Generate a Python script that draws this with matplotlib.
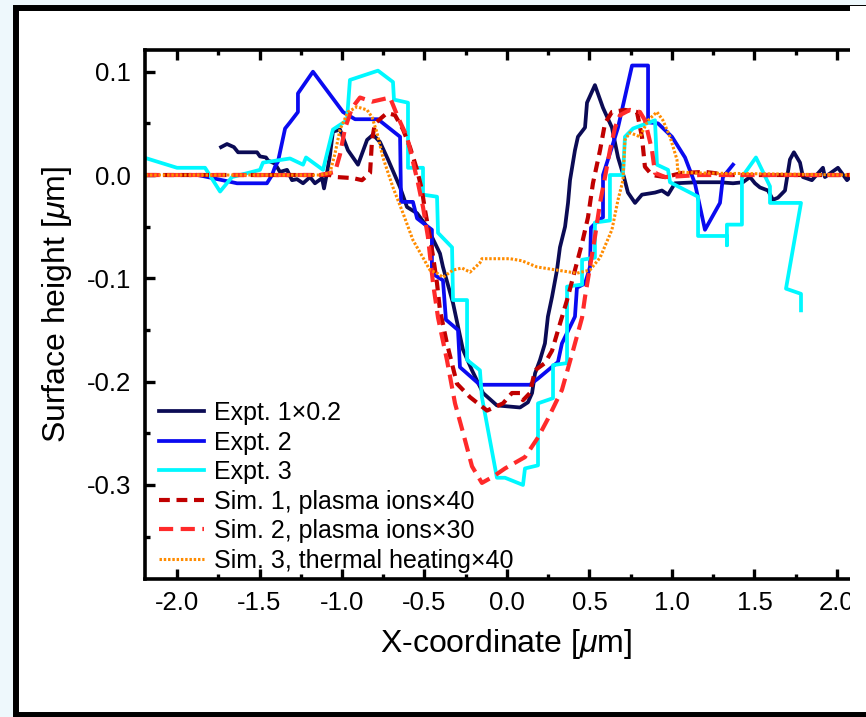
import matplotlib
matplotlib.use("Agg")
import matplotlib.pyplot as plt
from matplotlib.patches import Rectangle
from matplotlib.ticker import MultipleLocator

plt.rcParams['font.family'] = ['Liberation Sans', 'DejaVu Sans']
plt.rcParams['mathtext.fontset'] = 'custom'
plt.rcParams['mathtext.it'] = 'Liberation Sans:italic'

# Expt. 1 (scaled x0.2)
e1_x = [-1.733, -1.697, -1.655, -1.630, -1.515, -1.497, -1.461, -1.448, -1.406, -1.376,
        -1.333, -1.303, -1.273, -1.236, -1.194, -1.164, -1.121, -1.109, -1.091, -1.073,
        -1.055, -1.012, -0.964, -0.903, -0.848, -0.812, -0.770, -0.721, -0.648, -0.606,
        -0.545, -0.485, -0.406, -0.388, -0.327, -0.267, -0.212, -0.145, -0.061, 0.079,
        0.127, 0.152, 0.170, 0.200, 0.230, 0.248, 0.273, 0.303, 0.321, 0.352,
        0.370, 0.382, 0.412, 0.430, 0.473, 0.485, 0.533, 0.582, 0.636, 0.673,
        0.709, 0.733, 0.776, 0.818, 0.897, 0.939, 0.976, 1.018, 1.152, 1.291,
        1.370, 1.430, 1.473, 1.503, 1.533, 1.582, 1.612, 1.642, 1.685, 1.715,
        1.739, 1.776, 1.794, 1.848, 1.915, 1.927, 2.006, 2.061, 2.079]
e1_y = [0.027, 0.030, 0.027, 0.022, 0.022, 0.018, 0.017, 0.014, 0.011, 0.003,
        0.005, -0.005, -0.004, -0.008, -0.002, -0.008, -0.003, -0.013, 0.002, 0.019,
        0.042, 0.044, 0.024, 0.010, 0.034, 0.039, 0.032, 0.015, -0.012, -0.031,
        -0.037, -0.050, -0.076, -0.089, -0.124, -0.169, -0.189, -0.211, -0.223, -0.225,
        -0.220, -0.211, -0.192, -0.179, -0.163, -0.137, -0.118, -0.092, -0.070, -0.050,
        -0.027, -0.005, 0.024, 0.037, 0.046, 0.070, 0.087, 0.065, 0.046, 0.017,
        -0.002, -0.017, -0.027, -0.019, -0.017, -0.015, -0.019, -0.008, -0.007, -0.007,
        -0.008, -0.007, -0.002, -0.008, -0.012, -0.015, -0.024, -0.022, -0.015, 0.015,
        0.022, 0.012, -0.002, -0.005, 0.007, -0.002, 0.007, -0.005, -0.002]

# Expt. 2
e2_x = [-1.873, -1.636, -1.455, -1.424, -1.406, -1.388, -1.345, -1.315, -1.267, -1.267,
        -1.176, -0.994, -0.921, -0.782, -0.648, -0.642, -0.570, -0.545, -0.455, -0.455,
        -0.388, -0.370, -0.297, -0.285, -0.164, 0.139, 0.188, 0.248, 0.309, 0.333,
        0.394, 0.412, 0.424, 0.473, 0.503, 0.509, 0.552, 0.582, 0.582, 0.636,
        0.673, 0.758, 0.855, 0.855, 0.915, 1.000, 1.079, 1.139, 1.200, 1.291,
        1.309, 1.370]
e2_y = [0.0, -0.008, -0.008, 0.0, 0.008, 0.013, 0.045, 0.051, 0.061, 0.079,
        0.100, 0.061, 0.054, 0.054, 0.037, -0.026, -0.026, -0.042, -0.053, -0.095,
        -0.102, -0.140, -0.150, -0.186, -0.203, -0.203, -0.197, -0.189, -0.181, -0.163,
        -0.143, -0.137, -0.109, -0.105, -0.089, -0.051, -0.044, -0.041, 0.0, 0.027,
        0.046, 0.106, 0.106, 0.051, 0.050, 0.037, 0.017, -0.008, -0.053, -0.027,
        -0.002, 0.010]

# Expt. 3
e3_x = [-2.182, -2.000, -1.830, -1.739, -1.667, -1.497, -1.479, -1.315, -1.236, -1.218,
        -1.115, -1.055, -0.970, -0.952, -0.782, -0.691, -0.685, -0.600, -0.600, -0.509,
        -0.509, -0.424, -0.418, -0.333, -0.327, -0.242, -0.242, -0.164, -0.152, -0.061,
        -0.012, 0.097, 0.109, 0.188, 0.188, 0.279, 0.279, 0.364, 0.364, 0.455,
        0.455, 0.533, 0.533, 0.624, 0.624, 0.703, 0.715, 0.764, 0.897, 0.909,
        0.976, 0.988, 1.158, 1.158, 1.333, 1.333, 1.333, 1.424, 1.424, 1.509,
        1.594, 1.594, 1.782, 1.691, 1.782, 1.782]
e3_y = [0.016, 0.007, 0.007, -0.016, -0.002, 0.005, 0.012, 0.016, 0.010, 0.017,
        0.005, 0.044, 0.053, 0.092, 0.101, 0.090, 0.073, 0.070, 0.007, 0.007,
        -0.019, -0.021, -0.056, -0.070, -0.121, -0.121, -0.179, -0.189, -0.215, -0.293,
        -0.293, -0.300, -0.284, -0.281, -0.221, -0.216, -0.184, -0.182, -0.108, -0.106,
        -0.082, -0.080, -0.046, -0.044, 0.0, 0.0, 0.037, 0.045, 0.053, 0.010,
        0.005, -0.007, -0.021, -0.059, -0.059, -0.068, -0.048, -0.048, -0.002, 0.017,
        -0.011, -0.027, -0.027, -0.110, -0.115, -0.131]

# Sim. 1, plasma ions x40
s1_x = [-2.19, -1.073, -1.030, -0.933, -0.879, -0.830, -0.818, -0.800, -0.727, -0.679,
        -0.630, -0.588, -0.545, -0.515, -0.497, -0.467, -0.448, -0.424, -0.406, -0.364,
        -0.303, -0.224, -0.121, -0.024, 0.030, 0.079, 0.097, 0.139, 0.170, 0.230,
        0.273, 0.321, 0.364, 0.412, 0.455, 0.491, 0.521, 0.564, 0.594, 0.636,
        0.715, 0.788, 0.818, 0.836, 0.879, 0.958, 1.061, 1.200, 1.350, 2.08]
s1_y = [0.0, 0.0, -0.002, -0.003, -0.005, 0.002, 0.034, 0.050, 0.060, 0.058,
        0.044, 0.027, 0.005, -0.015, -0.034, -0.060, -0.079, -0.105, -0.131, -0.163,
        -0.202, -0.215, -0.228, -0.221, -0.211, -0.211, -0.218, -0.211, -0.189, -0.182,
        -0.170, -0.144, -0.121, -0.092, -0.066, -0.041, -0.008, 0.024, 0.050, 0.061,
        0.063, 0.061, 0.037, 0.008, 0.0, -0.002, 0.002, 0.003, 0.0, 0.0]

# Sim. 2, plasma ions x30
s2_x = [-2.19, -1.133, -1.042, -1.012, -0.982, -0.939, -0.891, -0.818, -0.709, -0.661,
        -0.606, -0.576, -0.539, -0.509, -0.479, -0.448, -0.418, -0.364, -0.315, -0.267,
        -0.212, -0.152, -0.085, -0.012, 0.109, 0.188, 0.248, 0.333, 0.400, 0.455,
        0.473, 0.503, 0.533, 0.564, 0.594, 0.624, 0.655, 0.685, 0.745, 0.806,
        0.836, 0.879, 0.897, 0.958, 1.170, 2.08]
s2_y = [0.0, 0.0, 0.003, 0.020, 0.045, 0.065, 0.075, 0.071, 0.075, 0.056,
        0.037, 0.017, -0.008, -0.031, -0.060, -0.105, -0.138, -0.179, -0.221, -0.249,
        -0.282, -0.298, -0.292, -0.284, -0.273, -0.254, -0.236, -0.208, -0.170, -0.138,
        -0.118, -0.089, -0.060, -0.027, -0.002, 0.024, 0.046, 0.058, 0.063, 0.061,
        0.053, 0.024, 0.002, -0.002, 0.0, 0.0]

# Sim. 3, thermal heating x40
s3_x = [-2.19, -1.133, -1.073, -1.042, -1.012, -0.964, -0.909, -0.848, -0.818, -0.788,
        -0.752, -0.691, -0.630, -0.570, -0.509, -0.467, -0.424, -0.388, -0.327, -0.273,
        -0.224, -0.164, -0.152, 0.018, 0.091, 0.182, 0.303, 0.424, 0.503, 0.564,
        0.636, 0.673, 0.703, 0.715, 0.745, 0.806, 0.855, 0.909, 0.945, 0.988,
        1.030, 1.036, 1.152, 2.08]
s3_y = [0.0, 0.0, 0.002, 0.021, 0.044, 0.061, 0.066, 0.063, 0.056, 0.041,
        0.017, -0.012, -0.037, -0.063, -0.080, -0.092, -0.095, -0.099, -0.092, -0.090,
        -0.094, -0.085, -0.081, -0.081, -0.083, -0.089, -0.092, -0.095, -0.092, -0.080,
        -0.053, -0.024, -0.005, 0.034, 0.041, 0.037, 0.053, 0.061, 0.053, 0.037,
        0.015, 0.003, 0.002, 0.0]

labels = ["Expt. 1\u00d70.2", "Expt. 2", "Expt. 3",
          "Sim. 1, plasma ions\u00d740", "Sim. 2, plasma ions\u00d730",
          "Sim. 3, thermal heating\u00d740"]

W, H = 866, 717
fig = plt.figure(figsize=(W / 100, H / 100), dpi=100)
fig.patch.set_facecolor("#eef8fc")

# black frame around the white panel (right side runs off the picture)
fig.patches.append(Rectangle((16 / W, 2.5 / H), 1.2, (714.5 - 9) / H + 0.002,
                             transform=fig.transFigure, facecolor="white",
                             edgecolor="black", linewidth=4.3, zorder=-5))

ax = fig.add_axes([145 / W, (H - 579) / H, (850 - 145) / W, (579 - 50) / H])
ax.plot(e1_x, e1_y, color="#0b0b55", lw=2.7, label=labels[0])
ax.plot(e2_x, e2_y, color="#0a0af0", lw=2.7, label=labels[1])
ax.plot(e3_x, e3_y, color="#00f8ff", lw=2.7, label=labels[2])
ax.plot(s1_x, s1_y, color="#c00000", lw=3.0, ls=(0, (2.6, 1.6)), label=labels[3])
ax.plot(s2_x, s2_y, color="#ff2a2a", lw=3.0, ls=(0, (3.4, 1.8)), label=labels[4])
ax.plot(s3_x, s3_y, color="#ff8c00", lw=2.2, ls=(0, (0.8, 0.6)), label=labels[5])

ax.set_xlim(-2.194, 2.079)
ax.set_ylim(-0.391, 0.121)
ax.xaxis.set_major_locator(MultipleLocator(0.5))
ax.xaxis.set_minor_locator(MultipleLocator(0.25))
ax.yaxis.set_major_locator(MultipleLocator(0.1))
ax.yaxis.set_minor_locator(MultipleLocator(0.05))
ax.xaxis.set_major_formatter(lambda v, p: f"{v:.1f}".replace("\u2212", "-"))
ax.yaxis.set_major_formatter(lambda v, p: f"{v:.1f}".replace("\u2212", "-"))

for s in ax.spines.values():
    s.set_linewidth(2.6)
ax.spines["right"].set_visible(False)
ax.tick_params(which="both", direction="in", top=True, right=False, width=2.4)
ax.tick_params(which="major", length=7.5)
ax.tick_params(which="minor", length=3.8)
ax.tick_params(axis="x", labelsize=18.5, pad=9)
ax.tick_params(axis="y", labelsize=18.5, pad=10)

ax.set_xlabel("X-coordinate [$\\mu$m]", fontsize=23)
ax.set_ylabel("Surface height [$\\mu$m]", fontsize=23)
ax.xaxis.set_label_coords(0.512, -0.09)
ax.yaxis.set_label_coords(-0.10, 0.518)

ax.legend(loc="lower left", bbox_to_anchor=(0.02, 0.012), frameon=False,
          fontsize=18, handlelength=1.8, handletextpad=0.4, labelspacing=0.22,
          borderpad=0, borderaxespad=0)

# the picture is cut off at the right edge of the plot
fig.patches.append(Rectangle((850 / W, 12 / H), 20 / W, (711 - 12) / H,
                             transform=fig.transFigure, facecolor="white",
                             edgecolor="none", zorder=10))

fig.savefig("out.png", dpi=100)
